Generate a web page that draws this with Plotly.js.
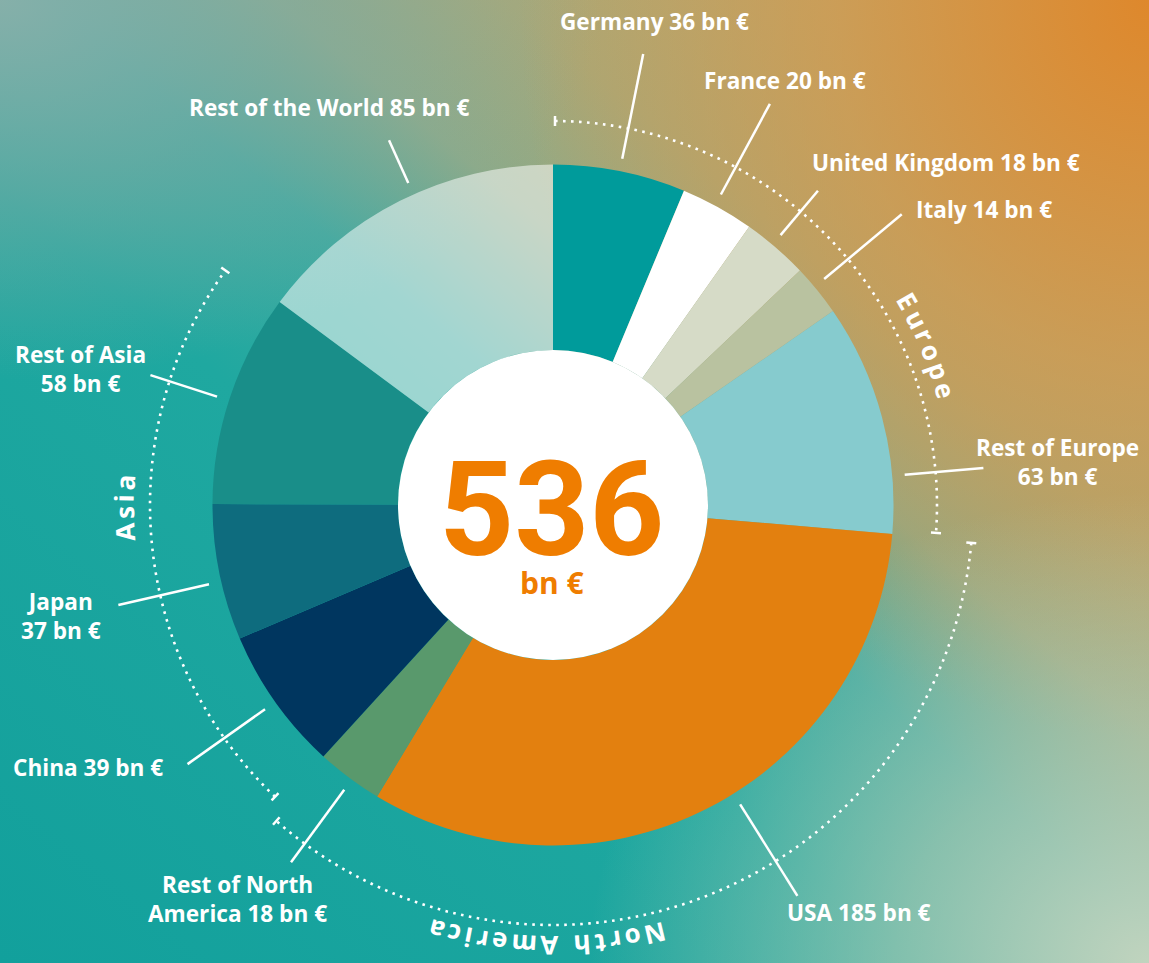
<!DOCTYPE html>
<html>
<head>
<meta charset="utf-8">
<script src="https://cdn.plot.ly/plotly-3.0.1.min.js"></script>
<style>
  html, body { margin: 0; padding: 0; width: 1149px; height: 963px; overflow: hidden; }
  #chart {
    width: 1149px; height: 963px;
    background-color: #1AA49E;
    background-image:
      radial-gradient(ellipse 560px 470px at 100% 100%, rgba(200,214,192,0.95) 0%, rgba(195,208,182,0.6) 45%, rgba(195,208,182,0) 100%),
      radial-gradient(ellipse 700px 820px at 100% 0%, rgba(222,136,44,1) 0%, rgba(214,152,74,0.68) 45%, rgba(205,165,100,0) 90%),
      radial-gradient(ellipse 600px 380px at 0% 0%, rgba(138,176,170,0.95) 0%, rgba(130,172,165,0.55) 50%, rgba(130,172,165,0) 100%),
      linear-gradient(to top right, #12A09C 0%, #1FA8A0 40%, #3DAAA0 52%, #8DAA88 62%, #A8A878 72%, #C0AA70 100%);
  }
</style>
</head>
<body>
<div id="chart"></div>
<script>
// ---------------- data ----------------
const countries = ["Germany", "France", "United Kingdom", "Italy", "Rest of Europe",
                   "USA", "Rest of North America", "China", "Japan", "Rest of Asia", "Rest of the World"];
const labelNames = ["Germany", "France", "United Kingdom", "Italy", "Rest of Europe<br>",
                    "USA", "Rest of North<br>America", "China", "Japan<br>", "Rest of Asia<br>", "Rest of the World"];
const revenueBn = [36, 20, 18, 14, 63, 185, 18, 39, 37, 58, 85];
const regionOf = ["Europe", "Europe", "Europe", "Europe", "Europe",
                  "North America", "North America", "Asia", "Asia", "Asia", "World"];
const regionNames = ["Europe", "North America", "Asia"];
const totalRevenue = 536;
const unit = "bn €";

// ---------------- style / layout ----------------
const sliceColors = ["#009B9B", "#FFFFFF", "#D6DBC7", "#B9C2A0", "#86CBCE",
                     "#E3800F", "#59996C", "#00365F", "#0E6C7E", "#198E89", "rgba(255,255,255,0.52)"];
const W = 1149, H = 963, CX = 553, CY = 505, R = 340.5, RH = 155;
const FONT = "'Open Sans', Roboto, sans-serif";
const NUMFONT = "Roboto, 'Open Sans', sans-serif";
// label block centres (pixels)
const labelPos = [[654, 22], [785, 80], [946, 163], [984, 209], [1057, 462],
                  [859, 912], [237, 899], [88, 767], [61, 616], [80, 369], [329, 107]];
// leader lines: angular shift from slice middle (deg), outer radius (px)
const leaderShift = [0, -0.5, -0.7, -0.7, 10, -5, -0.5, 0, -1.5, -0.5, 2.5];
const leaderOuter = [460, 456, 411, 454, 432, 461, 443, 448, 446, 423, 400];
const leaderInner = 353;
const regionArc = {
  "Europe":        {r: 384, pad0: 0.3, pad1: 0.7, textDeg: 66.9, textR: 409},
  "North America": {r: 420, pad0: 0.3, pad1: 1.2, textDeg: 180.8, textR: 441},
  "Asia":          {r: 403, pad0: 1.2, pad1: 1.0, textDeg: 269.6, textR: 429}
};

const px = x => x / W;
const py = y => 1 - y / H;
function polar(r, deg) {
  const a = deg * Math.PI / 180;
  return [CX + r * Math.sin(a), CY - r * Math.cos(a)];
}
const normDeg = d => ((d + 180) % 360 + 360) % 360 - 180;

// cumulative angles
const sum = revenueBn.reduce((a, b) => a + b, 0);
const startDeg = [], endDeg = [];
let acc = 0;
revenueBn.forEach(v => { startDeg.push(acc / sum * 360); acc += v; endDeg.push(acc / sum * 360); });

const shapes = [];
const annotations = [];

// white centre disk
shapes.push({type: "circle", xref: "paper", yref: "paper", layer: "above",
  x0: px(CX - RH), x1: px(CX + RH), y0: py(CY + RH), y1: py(CY - RH),
  fillcolor: "#FFFFFF", line: {width: 0}});

// leader lines + labels
revenueBn.forEach((v, i) => {
  const mid = (startDeg[i] + endDeg[i]) / 2 + leaderShift[i];
  const [x0, y0] = polar(leaderInner, mid);
  const [x1, y1] = polar(leaderOuter[i], mid);
  shapes.push({type: "line", xref: "paper", yref: "paper", x0: px(x0), y0: py(y0), x1: px(x1), y1: py(y1),
    line: {color: "#FFFFFF", width: 2.5}});
  const nm = labelNames[i];
  const txt = nm + (nm.endsWith("<br>") ? "" : " ") + v + " " + unit;
  annotations.push({xref: "paper", yref: "paper", x: px(labelPos[i][0]), y: py(labelPos[i][1]),
    xanchor: "center", yanchor: "middle", align: "center", showarrow: false,
    text: "<b>" + txt.replace("<br>", "</b><br><b>") + "</b>",
    font: {family: FONT, size: 22.6, color: "#FFFFFF"}});
});

// region arcs, ticks and curved names
const measureCtx = document.createElement("canvas").getContext("2d");
regionNames.forEach(reg => {
  const idx = regionOf.map((r, i) => r === reg ? i : -1).filter(i => i >= 0);
  const a0 = startDeg[idx[0]] + regionArc[reg].pad0;
  const a1 = endDeg[idx[idx.length - 1]] - regionArc[reg].pad1;
  const r = regionArc[reg].r;
  let path = "";
  const n = 120;
  for (let k = 0; k <= n; k++) {
    const [x, y] = polar(r, a0 + (a1 - a0) * k / n);
    path += (k === 0 ? "M" : "L") + px(x).toFixed(5) + "," + py(y).toFixed(5);
  }
  shapes.push({type: "path", xref: "paper", yref: "paper", path: path,
    line: {color: "#FFFFFF", width: 2.6, dash: "2.6px,5.4px"}});
  [a0, a1].forEach(a => {
    const [tx0, ty0] = polar(r - 5, a);
    const [tx1, ty1] = polar(r + 5, a);
    shapes.push({type: "line", xref: "paper", yref: "paper", x0: px(tx0), y0: py(ty0), x1: px(tx1), y1: py(ty1),
      line: {color: "#FFFFFF", width: 2.5}});
  });
  // curved region name
  const fs = 26, spacing = 4;
  measureCtx.font = "bold " + fs + "px 'Open Sans'";
  const chars = [...reg];
  const widths = chars.map(c => measureCtx.measureText(c).width);
  const total = widths.reduce((a, b) => a + b, 0) + spacing * (chars.length - 1);
  const tr = regionArc[reg].textR;
  let s = -total / 2;
  chars.forEach((c, k) => {
    const m = s + widths[k] / 2;
    const deg = regionArc[reg].textDeg + m / tr * 180 / Math.PI;
    const [x, y] = polar(tr, deg);
    if (c !== " ") {
      annotations.push({xref: "paper", yref: "paper", x: px(x), y: py(y), xanchor: "center", yanchor: "middle",
        showarrow: false, textangle: normDeg(deg), text: "<b>" + c + "</b>",
        font: {family: FONT, size: fs, color: "#FFFFFF"}});
    }
    s += widths[k] + spacing;
  });
});

// centre total (one text block: big number, unit below)
annotations.push({xref: "paper", yref: "paper", x: px(551), y: py(518), xanchor: "center", yanchor: "middle",
  showarrow: false, align: "center",
  text: "<span style='font-size:131px;font-family:Roboto'><b>" + totalRevenue + "</b></span><br><b>" + unit + "</b>",
  font: {family: FONT, size: 30, color: "#EF7D00"}});

const trace = {
  type: "pie",
  values: revenueBn,
  labels: countries,
  sort: false,
  direction: "clockwise",
  rotation: 0,
  hole: RH / R,
  textinfo: "none",
  hoverinfo: "label+value",
  marker: {colors: sliceColors, line: {width: 0}},
  domain: {x: [px(CX - R), px(CX + R)], y: [py(CY + R), py(CY - R)]},
  showlegend: false
};

const layout = {
  width: W, height: H, autosize: false,
  margin: {l: 0, r: 0, t: 0, b: 0, pad: 0},
  paper_bgcolor: "rgba(0,0,0,0)",
  plot_bgcolor: "rgba(0,0,0,0)",
  showlegend: false,
  shapes: shapes,
  annotations: annotations
};

Plotly.newPlot("chart", [trace], layout, {displayModeBar: false, staticPlot: true});
</script>
</body>
</html>
